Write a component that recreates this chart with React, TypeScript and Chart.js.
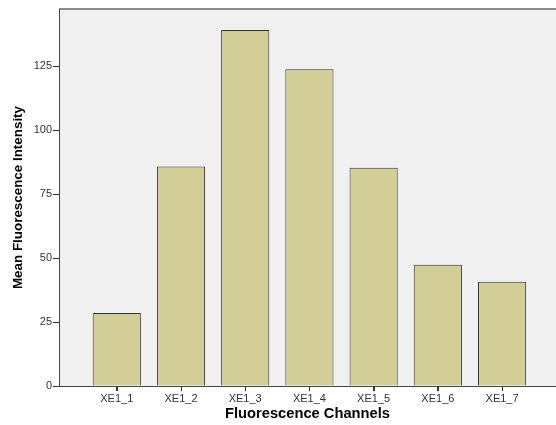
import { useEffect, useRef } from 'react';
import { Chart, registerables } from 'chart.js';

Chart.register(...registerables);

const categories = ['XE1_1', 'XE1_2', 'XE1_3', 'XE1_4', 'XE1_5', 'XE1_6', 'XE1_7'];
const meanIntensity = [28.5, 85.8, 139.1, 123.8, 85.3, 47.4, 40.7];
const yTickValues = [0, 25, 50, 75, 100, 125];
const xTitle = 'Fluorescence Channels';
const yTitle = 'Mean Fluorescence Intensity';

const FONT = '"Liberation Sans", Arial, sans-serif';

const plotFrame = {
  id: 'plotFrame',
  beforeDraw(chart: any) {
    const { ctx, chartArea } = chart;
    ctx.save();
    ctx.fillStyle = '#F0F0F0';
    ctx.fillRect(chartArea.left, chartArea.top, chartArea.right - chartArea.left, chartArea.bottom - chartArea.top);
    ctx.strokeStyle = '#8C8C8C';
    ctx.lineWidth = 2;
    ctx.beginPath();
    ctx.moveTo(chartArea.left, chartArea.top);
    ctx.lineTo(chartArea.right, chartArea.top);
    ctx.stroke();
    ctx.restore();
  },
  afterDraw(chart: any) {
    const { ctx, chartArea } = chart;
    const xScale = chart.scales.x;
    ctx.save();
    ctx.strokeStyle = '#333333';
    ctx.lineWidth = 1;
    ctx.beginPath();
    categories.forEach((_, i) => {
      const px = Math.round(xScale.getPixelForValue(i + 1)) + 0.5;
      ctx.moveTo(px, chartArea.bottom);
      ctx.lineTo(px, chartArea.bottom + 5);
    });
    ctx.stroke();
    ctx.restore();
  },
};

export default function App() {
  const ref = useRef<HTMLCanvasElement>(null);

  useEffect(() => {
    if (!ref.current) return;
    const chart = new Chart(ref.current, {
      type: 'bar',
      data: {
        datasets: [
          {
            data: meanIntensity.map((v, i) => ({ x: i + 1, y: v })),
            backgroundColor: '#D3CE97',
            borderColor: '#333333',
            borderWidth: 1,
            categoryPercentage: 1,
            barPercentage: 0.75,
          },
        ],
      },
      options: {
        animation: false,
        responsive: false,
        maintainAspectRatio: false,
        layout: { padding: { top: 9, right: 0, left: 0, bottom: 0 } },
        plugins: { legend: { display: false }, tooltip: { enabled: false } },
        scales: {
          x: {
            type: 'linear',
            offset: false,
            min: 0.1,
            max: 7.84,
            afterBuildTicks: (scale: any) => {
              scale.ticks = categories.map((_, i) => ({ value: i + 1 }));
            },
            afterFit: (scale: any) => {
              scale.height = 39;
            },
            ticks: {
              callback: (v: any) => categories[Math.round(Number(v)) - 1] ?? '',
              font: { family: FONT, size: 11 },
              color: '#333333',
              padding: 1,
              maxRotation: 0,
              autoSkip: false,
            },
            grid: { offset: false, drawOnChartArea: false, drawTicks: true, tickLength: 5, color: '#333333', lineWidth: 1 },
            border: { display: true, color: '#444444', width: 1 },
            title: {
              display: true,
              text: xTitle,
              font: { family: FONT, size: 14.7, weight: 'bold' },
              color: '#000000',
              padding: { top: 2, bottom: 2 },
            },
          },
          y: {
            min: 0,
            max: 147.3,
            afterBuildTicks: (scale: any) => {
              scale.ticks = yTickValues.map((v) => ({ value: v }));
            },
            afterFit: (scale: any) => {
              scale.width = 59;
            },
            ticks: {
              font: { family: FONT, size: 11 },
              color: '#333333',
              padding: 1,
            },
            grid: { drawOnChartArea: false, drawTicks: true, tickLength: 6, color: '#333333', lineWidth: 1 },
            border: { display: true, color: '#444444', width: 1 },
            title: {
              display: true,
              text: yTitle,
              font: { family: FONT, size: 13.4, weight: 'bold' },
              color: '#000000',
              padding: { top: 10, bottom: 0 },
            },
          },
        },
      },
      plugins: [plotFrame],
    });
    return () => chart.destroy();
  }, []);

  return (
    <div style={{ position: 'fixed', left: 0, top: 0, width: 556, height: 425, background: '#FFFFFF' }}>
      <canvas ref={ref} width={556} height={425} style={{ width: 556, height: 425 }} />
    </div>
  );
}
